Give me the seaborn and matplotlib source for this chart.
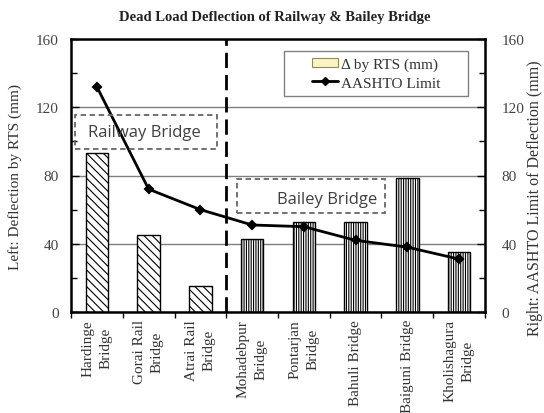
import numpy as np
import matplotlib
matplotlib.use("Agg")
import matplotlib.pyplot as plt
from matplotlib.patches import Rectangle, Patch
from matplotlib.lines import Line2D
from matplotlib.ticker import MultipleLocator, FixedLocator
import seaborn as sns

# ---- data ----
bridges = ["Hardinge\nBridge", "Gorai Rail\nBridge", "Atrai Rail\nBridge",
           "Mohadebpur\nBridge", "Pontarjan\nBridge", "Bahuli Bridge",
           "Baiguni Bridge", "Kholishagura\nBridge"]
bridge_type = ["Railway", "Railway", "Railway",
               "Bailey", "Bailey", "Bailey", "Bailey", "Bailey"]
rts_deflection = [93, 45, 15, 43, 53, 52.5, 78.5, 35]
aashto_limit = [132, 72, 60, 51, 50, 42, 38, 31]
y_ticks = [0, 40, 80, 120, 160]

sns.set_theme(style="white")
plt.rcParams["font.family"] = ["Liberation Serif", "DejaVu Serif"]
plt.rcParams["hatch.linewidth"] = 0.8

fig = plt.figure(figsize=(5.44, 4.14), dpi=100)
ax = fig.add_axes([71/544, 1-313/414, (485-71)/544, (313-40)/414])

sns.barplot(x=bridges, y=rts_deflection, ax=ax, width=0.43, color="white",
            saturation=1, edgecolor="black", linewidth=1)
for p, t in zip(ax.patches, bridge_type):
    p.set_hatch("\\\\\\\\" if t == "Railway" else "|||||||")
    p.set_edgecolor("black")
    p.set_facecolor("white")

sns.pointplot(x=bridges, y=aashto_limit, ax=ax, color="black", markers="D",
              markersize=4.5, linewidth=2)

ax.set_xlim(-0.5, len(bridges) - 0.5)
ax.set_ylim(0, 160)
ax.set_yticks(y_ticks)
ax.yaxis.set_minor_locator(MultipleLocator(20))
ax.xaxis.set_minor_locator(FixedLocator(np.arange(-0.5, len(bridges), 1.0)))
ax.tick_params(axis="x", which="major", length=0, pad=5, labelsize=11,
               labelcolor="#333333", rotation=90)
ax.tick_params(axis="x", which="minor", length=4, width=1, direction="out",
               color="black", bottom=True)
ax.tick_params(axis="y", which="both", direction="in", left=True, color="black",
               width=1, labelsize=11, labelcolor="#444444", pad=9)
ax.tick_params(axis="y", which="major", length=6)
ax.tick_params(axis="y", which="minor", length=4)
for lbl in ax.get_xticklabels():
    lbl.set_multialignment("center")
    lbl.set_linespacing(1.45)

ax.grid(axis="y", color="#7f7f7f", linewidth=1)
ax.set_axisbelow(True)
for s in ax.spines.values():
    s.set_visible(True)
    s.set_color("black")
    s.set_linewidth(1.8)
ax.set_xlabel("")
ax.set_ylabel("Left: Deflection by RTS (mm)", fontsize=11, color="#333333",
              labelpad=10)

ax.axvline(2.5, color="black", linewidth=2, linestyle=(0, (5.5, 2.5)), zorder=4)

ax2 = ax.twinx()
ax2.set_ylim(0, 160)
ax2.set_yticks(y_ticks)
ax2.yaxis.set_minor_locator(MultipleLocator(20))
ax2.tick_params(axis="y", which="both", direction="in", right=True,
                color="black", width=1, labelsize=11, labelcolor="#444444",
                pad=12)
ax2.tick_params(axis="y", which="major", length=6)
ax2.tick_params(axis="y", which="minor", length=4)
ax2.grid(False)
for s in ax2.spines.values():
    s.set_visible(False)

fig.text(535/544, 1-198/414, "Right: AASHTO Limit of Deflection (mm)",
         rotation=90, ha="center", va="center", fontsize=11.5, color="#333333")

# annotation boxes
box_kw = dict(fill=False, edgecolor="#666666", linewidth=1.3,
              linestyle=(0, (3, 2)), transform=ax.transAxes, zorder=5)
ax.add_patch(Rectangle((4/414, (313-150)/273), (217-75)/414, 34/273, **box_kw))
ax.text((144-71)/414, (313-133)/273, "Railway Bridge", transform=ax.transAxes,
        ha="center", va="center", fontsize=12, color="#404040",
        family=["Open Sans", "DejaVu Sans"], zorder=6)
ax.add_patch(Rectangle(((237-71)/414, (313-214)/273), (385-237)/414, 34/273, **box_kw))
ax.text((327-71)/414, (313-200)/273, "Bailey Bridge", transform=ax.transAxes,
        ha="center", va="center", fontsize=12, color="#404040",
        family=["Open Sans", "DejaVu Sans"], zorder=6)

# legend
ax.add_patch(Rectangle(((284-71)/414, (313-97)/273), (468-284)/414, 45/273,
                       facecolor="white", edgecolor="#808080", linewidth=1,
                       transform=ax.transAxes, zorder=6))
handles = [Patch(facecolor="#fbf3c0", edgecolor="#8c8c5a", linewidth=0.8),
           Line2D([], [], color="black", linewidth=2, marker="D", markersize=4)]
leg = ax.legend(handles, ["\u0394 by RTS (mm)", "AASHTO Limit"], loc="center",
                bbox_to_anchor=((376-71)/414, (313-74.5)/273), frameon=False,
                fontsize=11, handlelength=1.7, handleheight=0.6,
                handletextpad=0.2, labelspacing=0.35, borderpad=0)
leg.set_zorder(7)
for t in leg.get_texts():
    t.set_color("#333333")

fig.text(275/544, 1-17/414, "Dead Load Deflection of Railway & Bailey Bridge",
         ha="center", va="center", fontsize=10.5, fontweight="bold",
         color="#222222")

fig.savefig("out.png", dpi=100, facecolor="white")
